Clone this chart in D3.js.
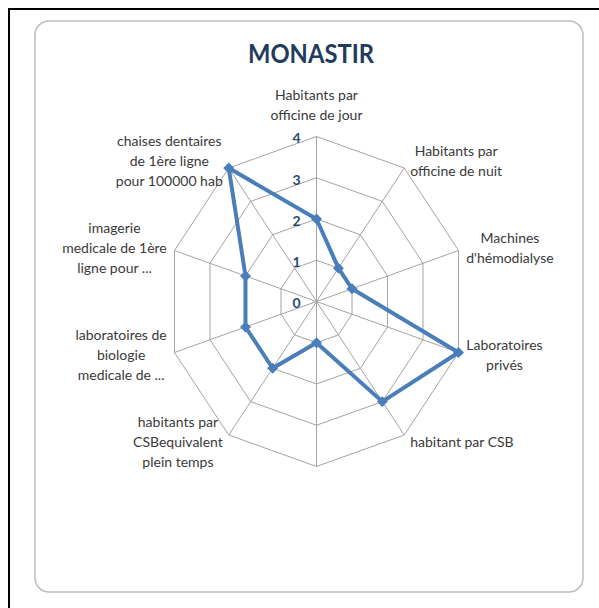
<!DOCTYPE html>
<html>
<head>
<meta charset="utf-8">
<script src="https://cdn.jsdelivr.net/npm/d3@7"></script>
<style>
  body { margin: 0; background: #fff; }
  svg text { font-family: Lato, "Open Sans", sans-serif; }
</style>
</head>
<body>
<div id="chart"></div>
<script>
// data
const title = "MONASTIR";
const categories = [
    "Habitants par\nofficine de jour",
    "Habitants par\nofficine de nuit",
    "Machines\nd'hémodialyse",
    "Laboratoires\nprivés",
    "habitant par CSB",
    "",
    "habitants par\nCSBequivalent\nplein temps",
    "laboratoires de\nbiologie\nmedicale de ...",
    "imagerie\nmedicale de 1ère\nligne pour ...",
    "chaises dentaires\nde 1ère ligne\npour 100000 hab"
];
const values = [2, 1, 1, 4, 3, 1, 2, 2, 2, 4];
const ticks = [0, 1, 2, 3, 4];

const config = {
    width: 599,
    height: 608,
    cx: 316.5,
    cy: 301.5,
    radius: 165,
    squeeze: 0.905,   // picture is a bit narrower than tall
    lineHeight: 20,
    seriesColor: "#4a7ebb",
    gridColor: "#a3a3a3"
};

const svg = d3.select("#chart").append("svg")
    .attr("width", config.width)
    .attr("height", config.height);

// outer black frame (runs off the right and bottom)
svg.append("rect")
    .attr("x", 9).attr("y", 9)
    .attr("width", 620).attr("height", 620)
    .attr("fill", "none")
    .attr("stroke", "#000")
    .attr("stroke-width", 2);

// chart area rounded box
svg.append("rect")
    .attr("x", 35).attr("y", 21)
    .attr("width", 548).attr("height", 571)
    .attr("rx", 14)
    .attr("fill", "#fff")
    .attr("stroke", "#bdbdbd")
    .attr("stroke-width", 1.5);

svg.append("text")
    .attr("x", 311)
    .attr("y", 63)
    .attr("text-anchor", "middle")
    .attr("font-size", 26)
    .attr("font-weight", "bold")
    .attr("fill", "#1f3b5e")
    .attr("textLength", 126)
    .attr("lengthAdjust", "spacingAndGlyphs")
    .text(title);

// scales
const rScale = d3.scaleLinear().domain([0, 4]).range([0, config.radius]);
const aScale = d3.scaleLinear().domain([0, categories.length]).range([0, 2 * Math.PI]);

const px = (i, v) => config.cx + config.squeeze * rScale(v) * Math.sin(aScale(i));
const py = (i, v) => config.cy - rScale(v) * Math.cos(aScale(i));

const chart = svg.append("g");
const idx = d3.range(categories.length);

// rings
chart.selectAll(".ring")
    .data(ticks.filter(t => t > 0))
    .join("polygon")
        .attr("class", "ring")
        .attr("points", t => idx.map(i => [px(i, t), py(i, t)].join(",")).join(" "))
        .attr("fill", "none")
        .attr("stroke", config.gridColor)
        .attr("stroke-width", 1);

// spokes
chart.selectAll(".spoke")
    .data(idx)
    .join("line")
        .attr("class", "spoke")
        .attr("x1", config.cx).attr("y1", config.cy)
        .attr("x2", i => px(i, 4)).attr("y2", i => py(i, 4))
        .attr("stroke", config.gridColor)
        .attr("stroke-width", 1);

// tick labels on the first spoke
chart.selectAll(".tick")
    .data(ticks)
    .join("text")
        .attr("class", "tick")
        .attr("x", config.cx - 16)
        .attr("y", t => py(0, t) + 2)
        .attr("dy", "0.35em")
        .attr("text-anchor", "end")
        .attr("font-size", 14)
        .attr("font-weight", "bold")
        .attr("fill", "#2b4a70")
        .text(t => t);

// category labels, placed next to the outer vertex
const labelG = chart.selectAll(".cat")
    .data(idx)
    .join("g")
        .attr("class", "cat");

labelG.each(function(i) {
    const g = d3.select(this);
    const lines = categories[i] ? categories[i].split("\n") : [];
    if (!lines.length) return;
    const t = g.append("text")
        .attr("text-anchor", "middle")
        .attr("font-size", 14)
        .attr("fill", "#3a3a3a");
    lines.forEach((l, k) => {
        t.append("tspan")
            .attr("x", 0)
            .attr("y", (k - (lines.length - 1) / 2) * config.lineHeight)
            .attr("dy", "0.35em")
            .text(l);
    });
    const box = t.node().getBBox();
    const a = aScale(i);
    const s = Math.sin(a), c = Math.cos(a);
    const vx = px(i, 4), vy = py(i, 4);
    let x, y;
    if (Math.abs(s) < 0.1) {
        x = vx;
        y = c > 0 ? vy - 11 - lines.length * config.lineHeight / 2 : vy + 11 + lines.length * config.lineHeight / 2;
    } else {
        const gap = 3 + 5 * Math.abs(s);
        x = s > 0 ? vx + gap + box.width / 2 : vx - gap - box.width / 2;
        y = vy - c * 9;
    }
    g.attr("transform", `translate(${x},${y})`);
});

// series line
const line = d3.line()
    .x(d => px(d.i, d.v))
    .y(d => py(d.i, d.v))
    .curve(d3.curveLinearClosed);

const pts = values.map((v, i) => ({ i, v }));

chart.append("path")
    .datum(pts)
    .attr("d", line)
    .attr("fill", "none")
    .attr("stroke", config.seriesColor)
    .attr("stroke-width", 4)
    .attr("stroke-linejoin", "round");

chart.selectAll(".marker")
    .data(pts)
    .join("path")
        .attr("class", "marker")
        .attr("d", d3.symbol(d3.symbolSquare, 60))
        .attr("transform", d => `translate(${px(d.i, d.v)},${py(d.i, d.v)}) rotate(45)`)
        .attr("fill", config.seriesColor);
</script>
</body>
</html>
